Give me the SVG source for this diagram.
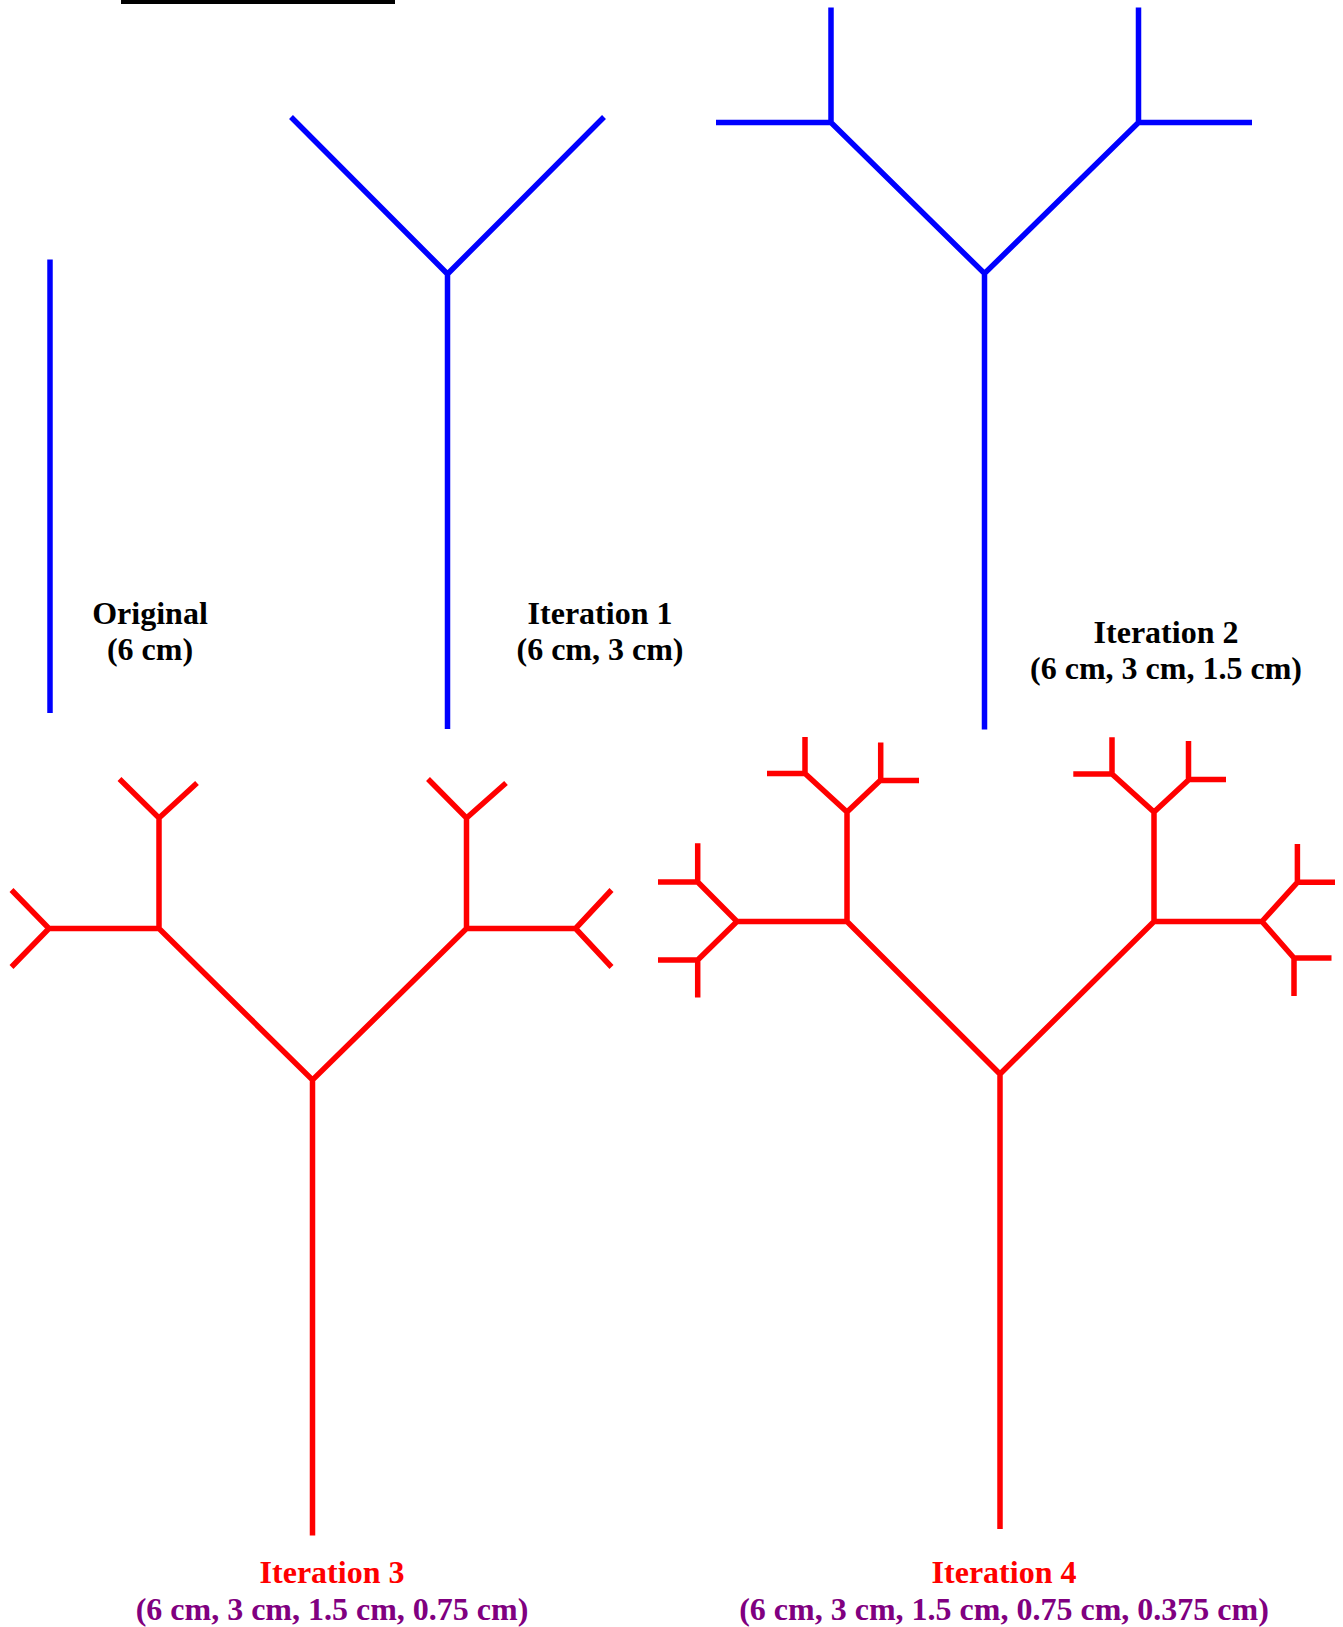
<svg xmlns="http://www.w3.org/2000/svg" width="1343" height="1627" viewBox="0 0 1343 1627">
<style>
.b{stroke:#0000FF;stroke-width:5.5;fill:none;stroke-linecap:butt;stroke-linejoin:miter}
.r{stroke:#FF0000;stroke-width:5.5;fill:none;stroke-linecap:butt;stroke-linejoin:miter}
text{font-family:"Liberation Serif","Times New Roman",serif;font-weight:bold;font-size:32px;text-anchor:middle}
.k{fill:#000000}
.red{fill:#FF0000}
.pu{fill:#800080}
</style>
<rect x="121" y="0" width="274" height="4" fill="#000000"/>
<g id="original">
<path class="b" d="M50,259.5V713"/>
<text class="k" x="150" y="623.5">Original</text>
<text class="k" x="150" y="660">(6 cm)</text>
</g>
<g id="iteration1">
<path class="b" d="M447.5,729V274M291,117L447.5,274L604,117"/>
<text class="k" x="600" y="623.5">Iteration 1</text>
<text class="k" x="600" y="660">(6 cm, 3 cm)</text>
</g>
<g id="iteration2">
<path class="b" d="M984.5,729.5V273.5M831,122.5L984.5,273.5L1138.5,122.5M831,7.5V122.5H716M1138.5,7.5V122.5H1252"/>
<text class="k" x="1166" y="642.5">Iteration 2</text>
<text class="k" x="1166" y="679">(6 cm, 3 cm, 1.5 cm)</text>
</g>
<g id="iteration3">
<path class="r" d="M312.5,1535.5V1080M159,928.5L312.5,1080L466.5,928.5
M159,818V928.5H49M466.5,818V928.5H575.5
M119.5,779L159,818L197,783M428,779L466.5,818L506,783
M11.5,890L49,928.5L11.5,967M611.5,890L575.5,928.5L611.5,967"/>
<text class="red" x="332" y="1583.3">Iteration 3</text>
<text class="pu" x="332" y="1620">(6 cm, 3 cm, 1.5 cm, 0.75 cm)</text>
</g>
<g id="iteration4">
<path class="r" d="M1000,1529V1074M847,921.5L1000,1074L1154,921.5
M847,812V921.5H737M1154,812V921.5H1262
M805,773.5L847,812L880.7,780M1112,774L1154,812L1189,779.5
M697.7,882L737,921.5L697.7,960M1297.4,882.3L1262,921.5L1294,958
M805,737V773.5H767M880.7,742.5V780.5H919
M697.7,843.3V882H658M697.7,997.5V960H658
M1112,737.3V774H1073.3M1188.5,741V779.5H1226
M1297.4,844V882.3H1335M1294,996V958H1331.5"/>
<text class="red" x="1004" y="1583.3">Iteration 4</text>
<text class="pu" x="1004" y="1620">(6 cm, 3 cm, 1.5 cm, 0.75 cm, 0.375 cm)</text>
</g>
</svg>
